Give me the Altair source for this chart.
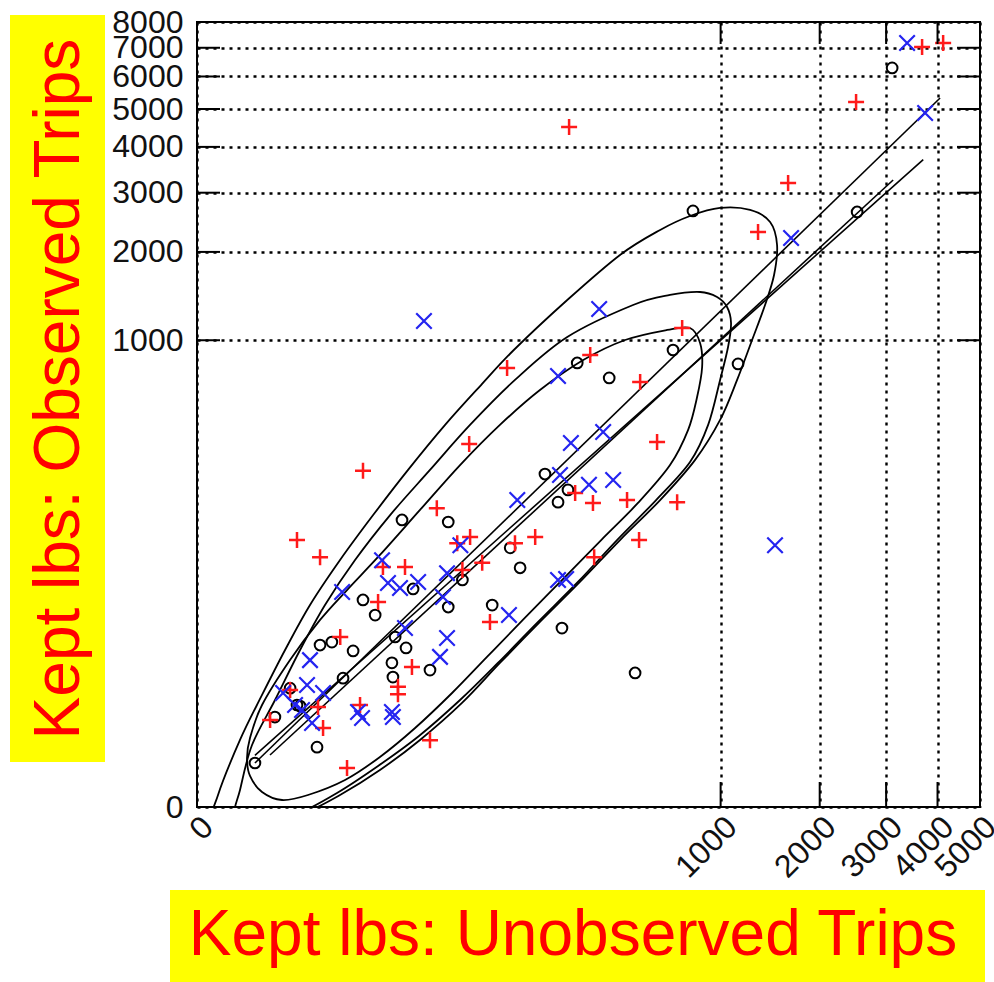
import altair as alt
import pandas as pd

# ---------------- data ----------------
# black open circles
circle_x = [3106, 2526, 805, 1140, 683, 278, 384, 195, 252, 226, 53, 23.5, 128, 145, 66, 101, 236, 490,
            29, 10.1, 13.4, 53, 20.5, 25.4, 39.2, 19.2, 19.6, 7.9, 3.05, 4.4, 6.05, 1.0, 1.33, 0.49, 2.76, 0.15, 1.5]
circle_y = [6285, 2641, 2659, 812, 919, 819, 714, 259, 213, 182, 139, 143, 95, 69, 56, 35, 21.6, 6.8,
            47.6, 38.7, 28.6, 33.7, 17.6, 13.5, 7.4, 9.1, 6.0, 12.5, 14.5, 15.6, 5.8, 4.2, 2.28, 1.38, 0.27, 0.079, 2.19]

# red plus signs
plus_x = [3677, 4123, 2510, 1624, 1318, 255, 123, 318, 513, 737, 73, 10.1, 596, 272, 327, 455, 707, 508, 44,
          1.33, 3.05, 61, 74, 136, 174, 88, 66, 331, 15.9, 24.9, 14.3, 98, 5.6, 28.4, 21.7, 21.7, 1.0, 2.85,
          0.38, 3.36, 9.4, 6.74, 39.2]
plus_y = [7031, 7179, 5205, 3195, 2303, 4505, 783, 880, 687, 1109, 366, 269, 374, 205, 180, 187, 182, 107, 168,
          107, 82, 102, 112, 102, 112, 75, 66.5, 82, 70, 70, 37.2, 24.7, 17.6, 8.1, 4.4, 3.4, 3.95, 2.1,
          1.21, 0.82, 2.28, 0.049, 0.42]

# blue x marks
cross_x = [3382, 3739, 1657, 35.3, 348, 226, 260, 362, 231, 140, 314, 399, 1485, 64, 226, 247, 126, 15.6, 52,
           17.7, 22.6, 31.8, 5.9, 48.7, 24.9, 52, 46.4, 2.17, 0.73, 1.95, 3.36, 1.62, 2.33, 8.94, 9.87, 19.2,
           19.6, 1.23]
cross_y = [7179, 4888, 2208, 1175, 1296, 727, 370, 417, 256, 187, 227, 241, 99, 99, 56, 57, 28.6, 78, 63,
           53, 48.5, 54, 45, 41, 21.6, 17.2, 10.7, 9.8, 3.56, 4.67, 3.56, 1.87, 1.05, 1.72, 1.32, 1.72,
           1.38, 2.28]

# straight lines (end points): A = fitted line, B = 1:1 line, C = second fitted line
line_names = ["A", "A", "B", "B", "C", "C"]
line_x = [0.15, 4056, 0.15, 3700, 0.378, 3124]
line_y = [0.079, 5325, 0.15, 3700, 0.154, 3256]

# ellipse outlines (points read around each curve)
e1_x = [996, 1245, 1435, 1506, 1475, 1385, 1263, 1132, 996, 819, 612, 426, 286, 184, 112, 65.6, 32.9, 14.9,
        5.57, 1.50, 0.105, 0.0014, 0.0026, 0.0455, 0.238, 0.80, 2.17, 5.57, 12.8, 26.4, 50.4, 86.6, 134, 250,
        426, 612, 786]
e1_y = [2713, 2677, 2468, 2102, 1688, 1338, 1002, 701, 473, 306, 187, 107, 54, 24.7, 9.06, 2.47, 0.425, 0.0395,
        0.000437, -0.0000863, -0.0059, -0.000308, 0.000437, 0.425, 3.32, 12.8, 35.1, 78.4, 153, 272, 449, 668,
        919, 1392, 1957, 2336, 2570]
e2_x = [852, 973, 1050, 1082, 1058, 996, 908, 786, 591, 414, 280, 180, 109, 63.7, 32.3, 14.3, 5.11, 1.23, 0.151,
        0.0278, 0.0455, 0.122, 0.493, 1.50, 3.57, 8.30, 18.5, 39.2, 73.9, 136, 250, 481, 666]
e2_y = [1482, 1426, 1317, 1156, 943, 701, 449, 298.5, 187, 107, 54, 24.7, 9.06, 2.76, 0.536, 0.0596, 0.00081,
        -0.0000863, -0.00221, -0.0000863, 0.00176, 0.311, 2.76, 12.8, 35.1, 78.4, 153, 272, 449, 701, 1028,
        1338, 1448]
e3_x = [650, 786, 852, 866, 832, 774, 666, 503, 355, 236, 150, 94.1, 56.3, 30.1, 14.9, 6.39, 2.02, 0.695,
        0.238, 0.105, 0.0832, 0.105, 0.238, 0.996, 3.05, 6.74, 14.9, 32.9, 63.7, 112, 184, 296, 447]
e3_y = [1091, 1109, 977, 790, 595, 426, 288, 180, 107, 55.9, 25.8, 10.7, 3.56, 0.821, 0.132, 0.0112, 0.000437,
        0.0000506, 0.00107, 0.0195, 0.1215, 0.478, 2.28, 9.84, 25.8, 46.7, 85, 164, 288, 449, 637, 841, 1002]

x_tick_values = [0, 1000, 2000, 3000, 4000, 5000]
y_tick_values = [0, 1000, 2000, 3000, 4000, 5000, 6000, 7000, 8000]
x_inner_ticks = [1000, 2000, 3000, 4000]
y_inner_ticks = [1000, 2000, 3000, 4000, 5000, 6000, 7000]

x_title = "Kept lbs: Unobserved Trips"
y_title = "Kept lbs: Observed Trips"

# ---------------- chart ----------------
W, H = 783, 785
FONT = "Liberation Sans"

x_scale = alt.Scale(type="pow", exponent=0.25, domain=[0, 5000], nice=False, zero=False)
y_scale = alt.Scale(type="pow", exponent=0.25, domain=[0, 8000], nice=False, zero=False)

grid_common = dict(grid=True, gridColor="black", gridDash=[3, 5], gridWidth=2.4, gridOpacity=1,
                   ticks=False, domain=False, labelFont=FONT, labelFontSize=32, labelColor="#111",
                   labelOverlap=False, labelFlush=False, labelBound=False, title=None, format="d")

x_axis = alt.Axis(values=x_tick_values, labelAngle=-45, labelAlign="right", labelBaseline="top",
                  labelPadding=4, **grid_common)
y_axis = alt.Axis(values=y_tick_values, labelPadding=14, **grid_common)


def xe(field):
    return alt.X(f"{field}:Q", scale=x_scale, axis=x_axis, title=None)


def ye(field):
    return alt.Y(f"{field}:Q", scale=y_scale, axis=y_axis, title=None)


circles_df = pd.DataFrame({"x": circle_x, "y": circle_y})
plus_df = pd.DataFrame({"x": plus_x, "y": plus_y})
cross_df = pd.DataFrame({"x": cross_x, "y": cross_y})
lines_df = pd.DataFrame({"x": line_x, "y": line_y, "g": line_names})
ell_df = pd.DataFrame({
    "x": e1_x + e2_x + e3_x,
    "y": e1_y + e2_y + e3_y,
    "e": ["E1"] * len(e1_x) + ["E2"] * len(e2_x) + ["E3"] * len(e3_x),
    "i": list(range(len(e1_x))) + list(range(len(e2_x))) + list(range(len(e3_x))),
})

circles = alt.Chart(circles_df).mark_point(
    shape="circle", filled=False, color="black", size=115, strokeWidth=2, opacity=1
).encode(x=xe("x"), y=ye("y"))

pluses = alt.Chart(plus_df).mark_point(
    shape="M-1,0L1,0M0,-1L0,1", filled=False, color="#ff1a1a", size=256, strokeWidth=2.5, opacity=1
).encode(x=xe("x"), y=ye("y"))

crosses = alt.Chart(cross_df).mark_point(
    shape="M-1,-1L1,1M-1,1L1,-1", filled=False, color="#2424f0", size=240, strokeWidth=2.2, opacity=1
).encode(x=xe("x"), y=ye("y"))

fit_lines = alt.Chart(lines_df).mark_line(color="black", strokeWidth=1.6, clip=True).encode(
    x=xe("x"), y=ye("y"), detail="g:N"
)

ellipses = alt.Chart(ell_df).mark_line(
    interpolate="cardinal-closed", color="black", strokeWidth=1.8, clip=True
).encode(x=xe("x"), y=ye("y"), detail="e:N", order="i:Q")

xt_df = pd.DataFrame({"v": x_inner_ticks})
yt_df = pd.DataFrame({"v": y_inner_ticks})
bottom_ticks = alt.Chart(xt_df).mark_rule(color="black", strokeWidth=2).encode(
    x=xe("v"), y=alt.value(H), y2=alt.value(H - 25))
top_ticks = alt.Chart(xt_df).mark_rule(color="black", strokeWidth=2).encode(
    x=xe("v"), y=alt.value(0), y2=alt.value(22))
left_ticks = alt.Chart(yt_df).mark_rule(color="black", strokeWidth=2).encode(
    y=ye("v"), x=alt.value(0), x2=alt.value(23))
right_ticks = alt.Chart(yt_df).mark_rule(color="black", strokeWidth=2).encode(
    y=ye("v"), x=alt.value(W - 23), x2=alt.value(W))

one = pd.DataFrame({"k": [0]})
ybox = alt.Chart(one).mark_rect(color="#ffff00").encode(
    x=alt.value(-187), x2=alt.value(-92), y=alt.value(-7), y2=alt.value(740))
xbox = alt.Chart(one).mark_rect(color="#ffff00").encode(
    x=alt.value(-27), x2=alt.value(788), y=alt.value(868), y2=alt.value(960))
ytext = alt.Chart(one).mark_text(
    text=y_title, font=FONT, fontSize=64, color="#ff0000", angle=270, align="center", baseline="middle"
).encode(x=alt.value(-137), y=alt.value(367))
xtext = alt.Chart(one).mark_text(
    text=x_title, font=FONT, fontSize=64, color="#ff0000", align="center", baseline="middle"
).encode(x=alt.value(376), y=alt.value(914))

chart = alt.layer(
    circles, ellipses, fit_lines, pluses, crosses,
    bottom_ticks, top_ticks, left_ticks, right_ticks,
    ybox, xbox, ytext, xtext,
).properties(
    width=W, height=H,
    autosize=alt.AutoSizeParams(type="none"),
    padding={"left": 197, "top": 22, "right": 14, "bottom": 175},
    background="white",
).configure_view(stroke="black", strokeWidth=2)

chart.save("out.html", embed_options={"renderer": "svg", "actions": False})
